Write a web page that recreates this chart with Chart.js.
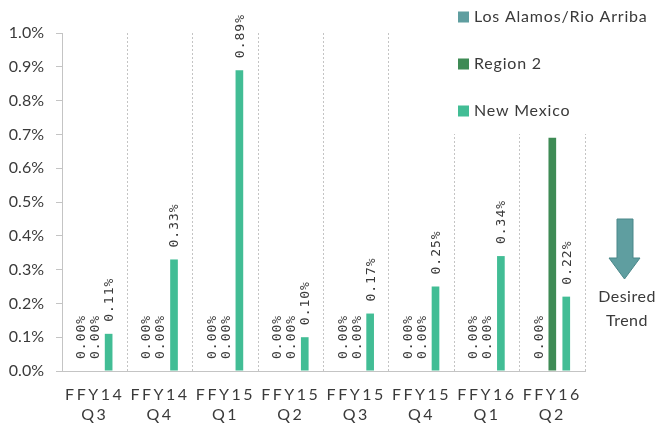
<!DOCTYPE html>
<html>
<head>
<meta charset="utf-8">
<script src="https://cdn.jsdelivr.net/npm/chart.js@4/dist/chart.umd.min.js"></script>
<style>
  html, body { margin: 0; padding: 0; background: #fff; }
  #wrap { width: 660px; height: 426px; }
</style>
</head>
<body>
<div id="wrap"><canvas id="c" width="660" height="426"></canvas></div>
<script>
// ---- data ----
const categories = [['FFY14','Q3'],['FFY14','Q4'],['FFY15','Q1'],['FFY15','Q2'],['FFY15','Q3'],['FFY15','Q4'],['FFY16','Q1'],['FFY16','Q2']];
const seriesNames = ['Los Alamos/Rio Arriba', 'Region 2', 'New Mexico'];
const losAlamos = [0, 0, 0, 0, 0, 0, 0, 0];
const region2   = [0, 0, 0, 0, 0, 0, 0, 0.69];
const newMexico = [0.11, 0.33, 0.89, 0.10, 0.17, 0.25, 0.34, 0.22];
const yMin = 0, yMax = 1.0, yStep = 0.1;
const seriesColors = ['#5f9ea0', '#3e8b55', '#42bd95'];

const TXT = '#3a3a3a';
const FONT = 'Lato, "Open Sans", sans-serif';

// letter-spaced x tick labels
const spacedX = {
  id: 'spacedX',
  beforeDraw(chart) {
    const sc = chart.scales.x;
    if (sc._spacedWrapped) return;
    const orig = sc.drawLabels;
    sc.drawLabels = function(ca) {
      const ctx = this.ctx;
      ctx.save();
      ctx.letterSpacing = '2.5px';
      orig.call(this, ca);
      ctx.restore();
    };
    sc._spacedWrapped = true;
  }
};

const overlay = {
  id: 'overlay',
  afterDatasetsDraw(chart) {
    const ctx = chart.ctx;
    // rotated value labels
    ctx.save();
    ctx.font = '13px "DejaVu Sans Mono", monospace';
    ctx.letterSpacing = '1px';
    ctx.fillStyle = TXT;
    ctx.textAlign = 'left';
    ctx.textBaseline = 'middle';
    chart.data.datasets.forEach((ds, i) => {
      const meta = chart.getDatasetMeta(i);
      meta.data.forEach((bar, j) => {
        const v = ds.data[j];
        if (v == null) return;
        ctx.save();
        ctx.translate(bar.x + 1, bar.y - 12);
        ctx.rotate(-Math.PI / 2);
        ctx.fillText(v.toFixed(2) + '%', 0, 0);
        ctx.restore();
      });
    });
    ctx.restore();

    // legend box (white background, covers what lies under it)
    ctx.save();
    const lx = 445, ly = 0;
    ctx.fillStyle = '#fff';
    ctx.fillRect(lx, ly, chart.width - lx, 134);
    ctx.font = '16px ' + FONT;
    ctx.letterSpacing = '0.8px';
    ctx.textAlign = 'left';
    ctx.textBaseline = 'middle';
    chart.data.datasets.forEach((ds, i) => {
      const cy = 17 + i * 47;
      ctx.fillStyle = ds.backgroundColor;
      ctx.fillRect(458, cy - 5.5, 11, 11);
      ctx.fillStyle = TXT;
      ctx.fillText(ds.label, 474, cy);
    });
    ctx.restore();

    // desired trend arrow
    ctx.save();
    ctx.beginPath();
    ctx.moveTo(617, 219);
    ctx.lineTo(633, 219);
    ctx.lineTo(633, 258);
    ctx.lineTo(640, 258);
    ctx.lineTo(624.5, 279);
    ctx.lineTo(609, 258);
    ctx.lineTo(617, 258);
    ctx.closePath();
    ctx.fillStyle = '#5f9ea0';
    ctx.fill();
    ctx.strokeStyle = '#4b8789';
    ctx.lineWidth = 1;
    ctx.stroke();
    ctx.fillStyle = TXT;
    ctx.font = '16px ' + FONT;
    ctx.letterSpacing = '0.5px';
    ctx.textAlign = 'center';
    ctx.textBaseline = 'middle';
    ctx.fillText('Desired', 627, 297);
    ctx.fillText('Trend', 627, 321);
    ctx.restore();
  }
};

new Chart(document.getElementById('c'), {
  type: 'bar',
  data: {
    labels: categories,
    datasets: [
      { label: seriesNames[0], data: losAlamos, backgroundColor: seriesColors[0] },
      { label: seriesNames[1], data: region2,   backgroundColor: seriesColors[1] },
      { label: seriesNames[2], data: newMexico, backgroundColor: seriesColors[2] }
    ]
  },
  options: {
    responsive: false,
    animation: false,
    devicePixelRatio: 1,
    categoryPercentage: 0.64,
    barPercentage: 0.55,
    layout: { padding: { left: 0, right: 75, top: 33, bottom: 0 } },
    plugins: { legend: { display: false }, tooltip: { enabled: false } },
    scales: {
      x: {
        grid: { display: true, color: '#c4c4c4', drawTicks: false, offset: true },
        border: { display: true, color: '#c4c4c4', dash: [2, 2] },
        ticks: { color: TXT, font: { family: FONT, size: 16, lineHeight: 1.3 }, padding: 13, maxRotation: 0, autoSkip: false },
        afterFit(s) { s.height = 55; }
      },
      y: {
        min: yMin, max: yMax,
        grid: { display: true, drawOnChartArea: false, drawTicks: true, tickLength: 6, color: '#c4c4c4' },
        border: { display: true, color: '#c4c4c4', dash: [2, 2] },
        ticks: { stepSize: yStep, color: TXT, padding: 12, font: { family: FONT, size: 16 },
                 callback: v => v.toFixed(1) + '%' },
        afterFit(s) { s.width = 62; }
      }
    }
  },
  plugins: [spacedX, overlay]
});
</script>
</body>
</html>
